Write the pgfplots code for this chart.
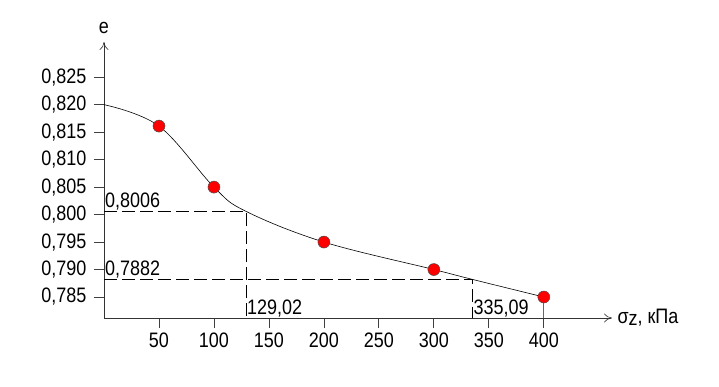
\documentclass[border=0pt]{standalone}
\usepackage{fontspec}
\setmainfont{Liberation Sans}[FakeStretch=0.86]
\usepackage{pgfplots}
\pgfplotsset{compat=1.18}
\usetikzlibrary{arrows.meta}
\begin{document}
\begin{tikzpicture}[font=\fontsize{21}{24}\selectfont]
\useasboundingbox (-104bp,-69bp) rectangle (615bp,318bp);
\begin{axis}[
  at={(0,0)}, anchor=south west,
  scale only axis, width=508bp, height=276bp,
  xmin=0, xmax=462, ymin=0.78118, ymax=0.8314,
  axis lines=left,
  axis line style={draw=black!80, line width=0.6pt, -{To[length=8bp,width=9bp]}},
  xtick={50,100,...,400}, ytick={0.785,0.790,...,0.8251},
  tick align=outside, major tick length=10bp,
  tick style={draw=black!75, line width=0.8pt},
  /pgf/number format/assume math mode=true,
  yticklabel style={/pgf/number format/.cd, fixed, fixed zerofill, precision=3, use comma, /tikz/.cd, xshift=-4bp},
  xticklabel style={/pgf/number format/.cd, fixed, use comma, /tikz/.cd, yshift=-1bp},
  clip=false,
]
\addplot[black, line width=0.6pt, dash pattern=on 13bp off 5bp] coordinates {(0,0.8006) (129.02,0.8006) (129.02,0.78118)};
\addplot[black, line width=0.6pt, dash pattern=on 13bp off 5bp] coordinates {(0,0.7882) (335.09,0.7882) (335.09,0.78118)};
\addplot[black!60, line width=0.8pt] coordinates {(400,0.785) (400,0.78118)};
\addplot[black, line width=0.6pt, smooth, tension=0.6] coordinates {
 (0,0.8200) (50,0.8161) (100,0.8050) (129.02,0.8006) (200,0.7950) (300,0.7900) (335.09,0.7882) (400,0.7850)};
\addplot[only marks, mark=*, mark size=6bp, mark options={fill=red, draw=black!70, line width=0.5pt}] coordinates {
 (50,0.8161) (100,0.8050) (200,0.7950) (300,0.7900) (400,0.7850)};
\node[anchor=south west, inner sep=1bp] at (axis cs:0,0.8006) {0,8006};
\node[anchor=south west, inner sep=1bp] at (axis cs:0,0.7882) {0,7882};
\node[anchor=south west, inner sep=1bp] at (axis cs:129.02,0.78118) {129,02};
\node[anchor=south west, inner sep=1bp] at (axis cs:335.09,0.78118) {335,09};
\node[yshift=14bp] at (axis cs:0,0.8314) {e};
\node[anchor=west, xshift=2bp] at (axis cs:462,0.78118) {σ\raisebox{-1.5bp}{z}, кПа};
\end{axis}
\end{tikzpicture}
\end{document}
